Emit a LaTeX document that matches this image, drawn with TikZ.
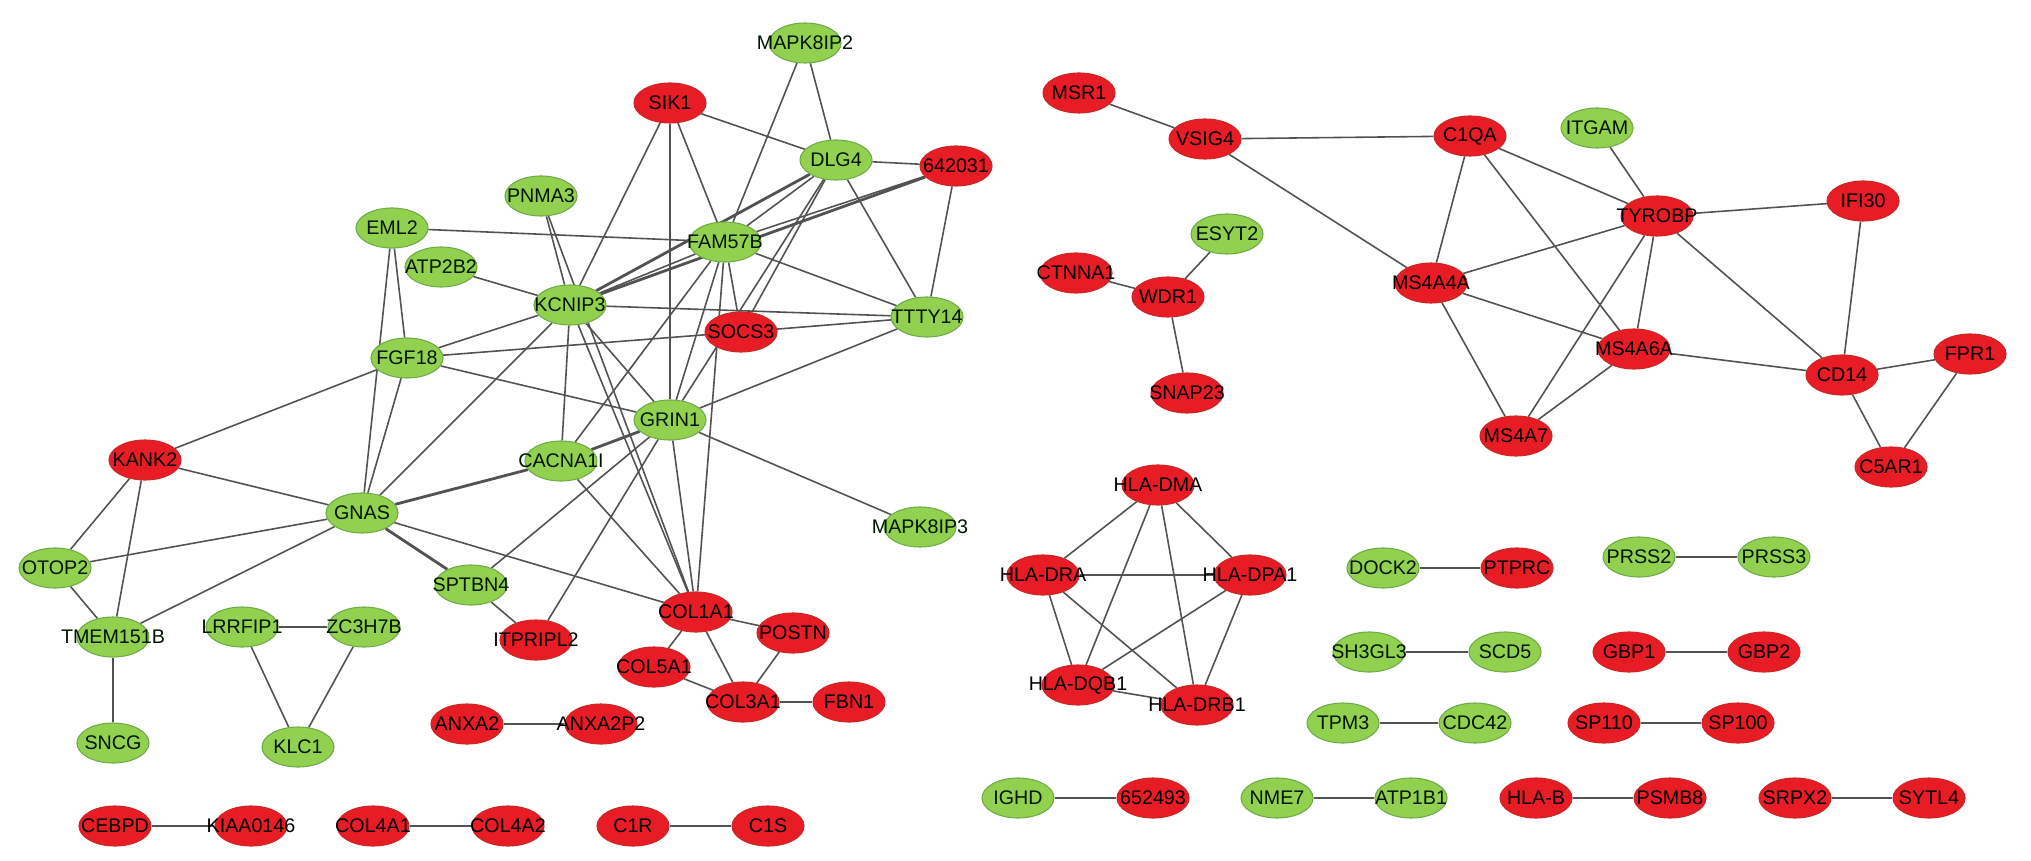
\documentclass[tikz,border=0pt]{standalone}
\usepackage{fontspec}
\setmainfont{Liberation Sans}
\usepackage{tikz}
\usetikzlibrary{shapes.geometric,backgrounds}
\usepackage{xcolor}
\definecolor{upgreen}{RGB}{146,208,80}
\definecolor{upgreenline}{RGB}{110,170,70}
\definecolor{downred}{RGB}{232,28,36}
\definecolor{downredline}{RGB}{200,40,40}
\tikzset{
  gene/.style  = {ellipse, line width=0.3pt, inner sep=0pt,
                  minimum width=0.72cm, minimum height=0.40cm,
                  font=\fontsize{5.6}{6}\selectfont,
                  execute at begin node=\hbox to 0pt\bgroup\hss,
                  execute at end node=\hss\egroup},
  gnode/.style = {gene, draw=upgreenline, fill=upgreen,
                  text=black!80!green!40!black},
  rnode/.style = {gene, draw=downredline, fill=downred, text=black},
  link/.style  = {draw=black!68, line width=0.45pt},
  dlink/.style = {draw=black!68, line width=0.8pt},
}

\begin{document}
\begin{tikzpicture}[x=0.01cm, y=-0.01cm]
\useasboundingbox (0,0) rectangle (2031,861);

%% ── Main cluster (left) ───────────────────────────────────
\node[gnode] (mapk8ip2) at (805,43)  {MAPK8IP2};
\node[rnode] (sik1)     at (670,103) {SIK1};
\node[gnode] (dlg4)     at (836,160) {DLG4};
\node[rnode] (n642031)  at (956,166) {642031};
\node[gnode] (pnma3)    at (541,196) {PNMA3};
\node[gnode] (eml2)     at (392,228) {EML2};
\node[gnode] (fam57b)   at (725,242) {FAM57B};
\node[gnode] (atp2b2)   at (441,267) {ATP2B2};
\node[gnode] (kcnip3)   at (570,305) {KCNIP3};
\node[gnode] (ttty14)   at (927,317) {TTTY14};
\node[rnode] (socs3)    at (741,332) {SOCS3};
\node[gnode] (fgf18)    at (407,358) {FGF18};
\node[gnode] (grin1)    at (670,420) {GRIN1};
\node[rnode] (kank2)    at (145,460) {KANK2};
\node[gnode] (cacna1i)  at (561,461) {CACNA1I};
\node[gnode] (gnas)     at (362,513) {GNAS};
\node[gnode] (mapk8ip3) at (920,527) {MAPK8IP3};
\node[gnode] (otop2)    at (55,568)  {OTOP2};
\node[gnode] (sptbn4)   at (471,585) {SPTBN4};
\node[gnode] (tmem151b) at (113,637) {TMEM151B};
\node[gnode] (sncg)     at (113,743) {SNCG};

%% ── Collagen group ────────────────────────────────────────
\node[rnode] (itpripl2) at (536,640) {ITPRIPL2};
\node[rnode] (col1a1)   at (696,612) {COL1A1};
\node[rnode] (postn)    at (793,633) {POSTN};
\node[rnode] (col5a1)   at (654,667) {COL5A1};
\node[rnode] (col3a1)   at (743,702) {COL3A1};
\node[rnode] (fbn1)     at (849,702) {FBN1};

%% ── Small groups (left) ───────────────────────────────────
\node[gnode] (lrrfip1)  at (242,627) {LRRFIP1};
\node[gnode] (zc3h7b)   at (364,627) {ZC3H7B};
\node[gnode] (klc1)     at (298,747) {KLC1};
\node[rnode] (anxa2)    at (467,724) {ANXA2};
\node[rnode] (anxa2p2)  at (601,724) {ANXA2P2};
\node[rnode] (cebpd)    at (115,826) {CEBPD};
\node[rnode] (kiaa0146) at (251,826) {KIAA0146};
\node[rnode] (col4a1)   at (373,826) {COL4A1};
\node[rnode] (col4a2)   at (508,826) {COL4A2};
\node[rnode] (c1r)      at (633,826) {C1R};
\node[rnode] (c1s)      at (768,826) {C1S};

%% ── Immune cluster (right) ────────────────────────────────
\node[rnode] (msr1)     at (1079,93)  {MSR1};
\node[rnode] (vsig4)    at (1205,139) {VSIG4};
\node[rnode] (c1qa)     at (1470,136) {C1QA};
\node[gnode] (itgam)    at (1597,128) {ITGAM};
\node[rnode] (tyrobp)   at (1657,216) {TYROBP};
\node[rnode] (ifi30)    at (1863,201) {IFI30};
\node[rnode] (ms4a4a)   at (1431,283) {MS4A4A};
\node[rnode] (ms4a6a)   at (1634,349) {MS4A6A};
\node[rnode] (cd14)     at (1842,375) {CD14};
\node[rnode] (fpr1)     at (1970,354) {FPR1};
\node[rnode] (ms4a7)    at (1516,436) {MS4A7};
\node[rnode] (c5ar1)    at (1891,467) {C5AR1};

\node[gnode] (esyt2)    at (1227,234) {ESYT2};
\node[rnode] (ctnna1)   at (1076,273) {CTNNA1};
\node[rnode] (wdr1)     at (1168,297) {WDR1};
\node[rnode] (snap23)   at (1187,393) {SNAP23};

%% ── HLA group ─────────────────────────────────────────────
\node[rnode] (hladma)   at (1158,485) {HLA-DMA};
\node[rnode] (hladra)   at (1043,575) {HLA-DRA};
\node[rnode] (hladpa1)  at (1250,575) {HLA-DPA1};
\node[rnode] (hladqb1)  at (1078,685) {HLA-DQB1};
\node[rnode] (hladrb1)  at (1197,705) {HLA-DRB1};

%% ── Pairs (right) ─────────────────────────────────────────
\node[gnode] (dock2)    at (1383,568) {DOCK2};
\node[rnode] (ptprc)    at (1517,568) {PTPRC};
\node[gnode] (prss2)    at (1639,557) {PRSS2};
\node[gnode] (prss3)    at (1774,557) {PRSS3};
\node[gnode] (sh3gl3)   at (1369,652) {SH3GL3};
\node[gnode] (scd5)     at (1505,652) {SCD5};
\node[rnode] (gbp1)     at (1629,652) {GBP1};
\node[rnode] (gbp2)     at (1764,652) {GBP2};
\node[gnode] (tpm3)     at (1343,723) {TPM3};
\node[gnode] (cdc42)    at (1475,723) {CDC42};
\node[rnode] (sp110)    at (1604,723) {SP110};
\node[rnode] (sp100)    at (1738,723) {SP100};
\node[gnode] (ighd)     at (1018,798) {IGHD};
\node[rnode] (n652493)  at (1153,798) {652493};
\node[gnode] (nme7)     at (1277,798) {NME7};
\node[gnode] (atp1b1)   at (1411,798) {ATP1B1};
\node[rnode] (hlab)     at (1536,798) {HLA-B};
\node[rnode] (psmb8)    at (1670,798) {PSMB8};
\node[rnode] (srpx2)    at (1795,798) {SRPX2};
\node[rnode] (sytl4)    at (1929,798) {SYTL4};

\begin{scope}[on background layer]
%% ── Edges: main cluster ───────────────────────────────────
\draw[link] (mapk8ip2) -- (dlg4);
\draw[link] (mapk8ip2) -- (fam57b);
\draw[link] (sik1) -- (dlg4);
\draw[link] (sik1) -- (fam57b);
\draw[link] (sik1) -- (kcnip3);
\draw[link] (sik1) -- (grin1);
\draw[link] (dlg4) -- (n642031);
\draw[link] (dlg4) -- (ttty14);
\draw[link] (dlg4) -- (fam57b);
\draw[dlink] (dlg4) -- (kcnip3);
\draw[link] (dlg4) -- (socs3);
\draw[link] (dlg4) -- (grin1);
\draw[link] (n642031) -- (ttty14);
\draw[link] (n642031) -- (fam57b);
\draw[dlink] (n642031) -- (kcnip3);
\draw[link] (eml2) -- (fam57b);
\draw[link] (eml2) -- (fgf18);
\draw[link] (eml2) -- (gnas);
\draw[link] (pnma3) -- (kcnip3);
\draw[link] (pnma3) -- (col1a1);
\draw[link] (atp2b2) -- (kcnip3);
\draw[link] (fam57b) -- (ttty14);
\draw[link] (fam57b) -- (kcnip3);
\draw[link] (fam57b) -- (socs3);
\draw[link] (fam57b) -- (grin1);
\draw[link] (fam57b) -- (col1a1);
\draw[link] (fam57b) -- (cacna1i);
\draw[link] (kcnip3) -- (ttty14);
\draw[link] (kcnip3) -- (fgf18);
\draw[link] (kcnip3) -- (gnas);
\draw[link] (kcnip3) -- (cacna1i);
\draw[link] (kcnip3) -- (grin1);
\draw[link] (kcnip3) -- (col1a1);
\draw[link] (socs3) -- (ttty14);
\draw[link] (socs3) -- (fgf18);
\draw[link] (ttty14) -- (grin1);
\draw[link] (fgf18) -- (kank2);
\draw[link] (fgf18) -- (gnas);
\draw[link] (fgf18) -- (grin1);
\draw[dlink] (grin1) -- (cacna1i);
\draw[link] (grin1) -- (sptbn4);
\draw[link] (grin1) -- (itpripl2);
\draw[link] (grin1) -- (col1a1);
\draw[link] (grin1) -- (mapk8ip3);
\draw[link] (kank2) -- (gnas);
\draw[link] (kank2) -- (otop2);
\draw[link] (kank2) -- (tmem151b);
\draw[dlink] (cacna1i) -- (gnas);
\draw[link] (cacna1i) -- (col1a1);
\draw[link] (gnas) -- (otop2);
\draw[link] (gnas) -- (tmem151b);
\draw[dlink] (gnas) -- (sptbn4);
\draw[link] (gnas) -- (col1a1);
\draw[link] (otop2) -- (tmem151b);
\draw[link] (tmem151b) -- (sncg);
\draw[link] (sptbn4) -- (itpripl2);

%% ── Edges: collagen group ─────────────────────────────────
\draw[link] (col1a1) -- (postn);
\draw[link] (col1a1) -- (col5a1);
\draw[link] (col1a1) -- (col3a1);
\draw[link] (postn)  -- (col3a1);
\draw[link] (col5a1) -- (col3a1);
\draw[link] (col3a1) -- (fbn1);

%% ── Edges: small groups (left) ────────────────────────────
\draw[link] (lrrfip1) -- (zc3h7b);
\draw[link] (lrrfip1) -- (klc1);
\draw[link] (zc3h7b)  -- (klc1);
\draw[link] (anxa2)   -- (anxa2p2);
\draw[link] (cebpd)   -- (kiaa0146);
\draw[link] (col4a1)  -- (col4a2);
\draw[link] (c1r)     -- (c1s);

%% ── Edges: immune cluster ─────────────────────────────────
\draw[link] (msr1)   -- (vsig4);
\draw[link] (vsig4)  -- (c1qa);
\draw[link] (vsig4)  -- (ms4a4a);
\draw[link] (c1qa)   -- (ms4a4a);
\draw[link] (c1qa)   -- (tyrobp);
\draw[link] (c1qa)   -- (ms4a6a);
\draw[link] (itgam)  -- (tyrobp);
\draw[link] (tyrobp) -- (ifi30);
\draw[link] (tyrobp) -- (ms4a4a);
\draw[link] (tyrobp) -- (ms4a6a);
\draw[link] (tyrobp) -- (ms4a7);
\draw[link] (tyrobp) -- (cd14);
\draw[link] (ifi30)  -- (cd14);
\draw[link] (ms4a4a) -- (ms4a6a);
\draw[link] (ms4a4a) -- (ms4a7);
\draw[link] (ms4a6a) -- (ms4a7);
\draw[link] (ms4a6a) -- (cd14);
\draw[link] (cd14)   -- (fpr1);
\draw[link] (cd14)   -- (c5ar1);
\draw[link] (fpr1)   -- (c5ar1);
\draw[link] (esyt2)  -- (wdr1);
\draw[link] (ctnna1) -- (wdr1);
\draw[link] (wdr1)   -- (snap23);

%% ── Edges: HLA group ──────────────────────────────────────
\draw[link] (hladma)  -- (hladra);
\draw[link] (hladma)  -- (hladpa1);
\draw[link] (hladma)  -- (hladqb1);
\draw[link] (hladma)  -- (hladrb1);
\draw[link] (hladra)  -- (hladpa1);
\draw[link] (hladra)  -- (hladqb1);
\draw[link] (hladra)  -- (hladrb1);
\draw[link] (hladpa1) -- (hladqb1);
\draw[link] (hladpa1) -- (hladrb1);
\draw[link] (hladqb1) -- (hladrb1);

%% ── Edges: pairs (right) ──────────────────────────────────
\draw[link] (dock2)  -- (ptprc);
\draw[link] (prss2)  -- (prss3);
\draw[link] (sh3gl3) -- (scd5);
\draw[link] (gbp1)   -- (gbp2);
\draw[link] (tpm3)   -- (cdc42);
\draw[link] (sp110)  -- (sp100);
\draw[link] (ighd)   -- (n652493);
\draw[link] (nme7)   -- (atp1b1);
\draw[link] (hlab)   -- (psmb8);
\draw[link] (srpx2)  -- (sytl4);
\end{scope}

\end{tikzpicture}
\end{document}
